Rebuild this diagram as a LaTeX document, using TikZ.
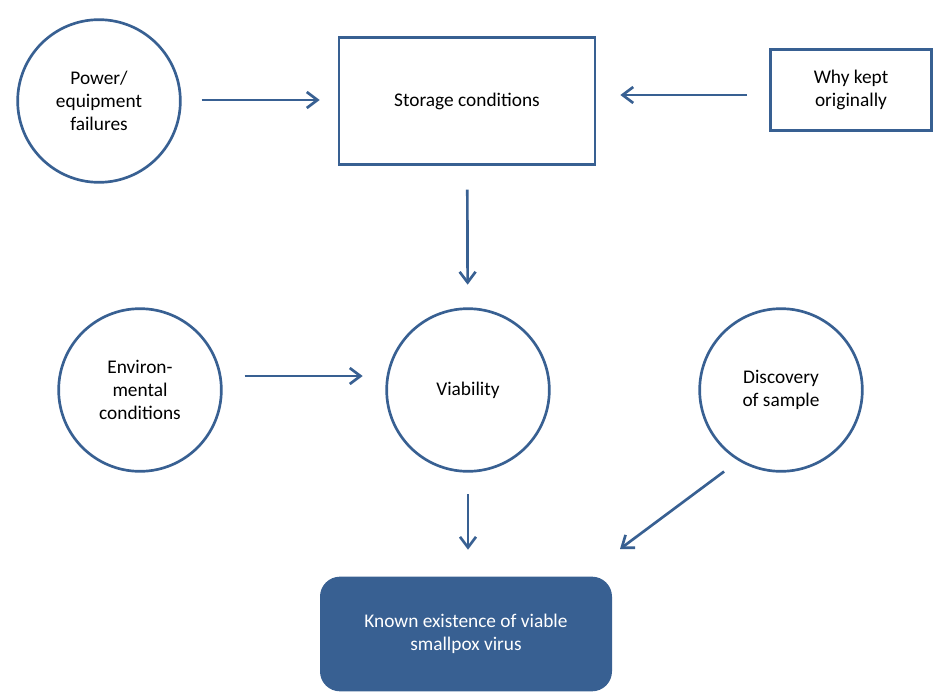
\documentclass[tikz,border=0pt]{standalone}
\usepackage{fontspec}
\setmainfont{Carlito}
\usetikzlibrary{arrows.meta, positioning}

\definecolor{flowblue}{RGB}{56,96,146}

\tikzset{
    factor/.style={circle, draw=flowblue, line width=2pt, minimum size=122pt, inner sep=0pt, align=center},
    box/.style={rectangle, draw=flowblue, line width=2pt, inner sep=0pt, align=center},
    outcome/.style={rectangle, rounded corners=15pt, fill=flowblue, text=white, inner sep=0pt, align=center, minimum width=219pt, minimum height=86pt},
    arr/.style={draw=flowblue, line width=2pt, -{Straight Barb[length=8pt, width=12pt, line width=2pt]}},
}

\begin{document}
\begin{tikzpicture}[x=0.75pt, y=-0.75pt, font=\fontsize{14.5}{17.3}\selectfont]
    \useasboundingbox (0,0) rectangle (950,700);

    % top row
    \node[factor] (power) at (99,101) {Power/\\equipment\\failures};
    \node[box, minimum width=192pt, minimum height=95pt] (storage) at (467,101) {Storage conditions};
    \node[box, minimum width=121pt, minimum height=61pt] (why) at (851,90) {Why kept\\originally};

    % middle row
    \node[factor] (env) at (140,390) {Environ-\\mental\\conditions};
    \node[factor] (viab) at (468,390) {Viability};
    \node[factor] (disc) at (781,390) {Discovery\\of sample};

    % outcome
    \node[outcome] (known) at (466,634) {Known existence of viable\\smallpox virus};
    \coordinate (disctip) at (620,549);

    \draw[arr, shorten <=15pt, shorten >=13.5pt] ([yshift=0.75pt]power.east) -- ([yshift=0.75pt]storage.west);
    \draw[arr, shorten <=16.5pt, shorten >=18pt] ([yshift=-3.75pt]why.west) -- ([yshift=4.5pt]storage.east);
    \draw[arr, shorten <=18pt, shorten >=17pt] (storage) -- (viab);
    \draw[arr, shorten <=16.5pt, shorten >=17pt] ([yshift=10.5pt]env.east) -- ([yshift=10.5pt]viab.west);
    \draw[arr, shorten <=16pt, shorten >=20pt] (viab) -- (viab |- known.north);
    \draw[arr, shorten <=13.4pt] (disc.-121) -- (disctip);
\end{tikzpicture}
\end{document}
